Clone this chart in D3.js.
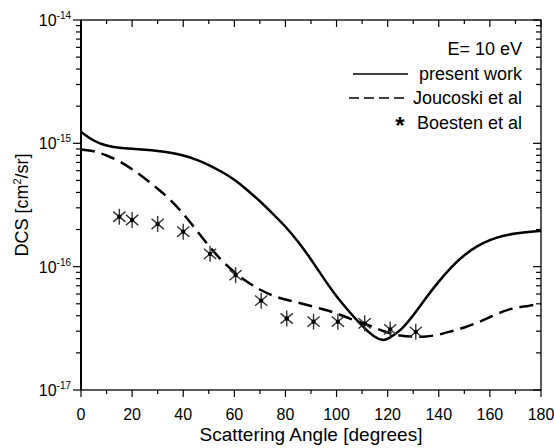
<!DOCTYPE html>
<html>
<head>
<meta charset="utf-8">
<script src="https://cdn.jsdelivr.net/npm/d3@7"></script>
<style>
  body { margin: 0; background: #fff; }
  text { font-family: "Liberation Sans", Arial, sans-serif; fill: #000; }
</style>
</head>
<body>
<div id="chart"></div>
<script>
// angles in degrees, DCS in cm^2/sr
const presentAngles = [0, 5, 10, 15, 20, 25, 30, 35, 40, 45, 50, 55, 60, 65, 70, 75, 80, 85, 90, 95, 100, 105, 110, 115, 118, 120, 125, 130, 135, 140, 145, 150, 155, 160, 165, 170, 175, 180];
const presentDcs = [1.24e-15, 1.04e-15, 0.95e-15, 0.92e-15, 0.905e-15, 0.89e-15, 0.87e-15, 0.84e-15, 0.80e-15, 0.74e-15, 0.67e-15, 0.59e-15, 0.51e-15, 0.42e-15, 0.34e-15, 0.27e-15, 0.212e-15, 0.16e-15, 0.115e-15, 0.08e-15, 0.057e-15, 0.043e-15, 0.033e-15, 0.0265e-15, 0.0252e-15, 0.0258e-15, 0.030e-15, 0.040e-15, 0.056e-15, 0.076e-15, 0.100e-15, 0.125e-15, 0.147e-15, 0.165e-15, 0.178e-15, 0.186e-15, 0.191e-15, 0.195e-15];

const joucoskiAngles = [0, 5, 10, 15, 20, 25, 30, 35, 40, 45, 50, 55, 60, 65, 70, 75, 80, 85, 90, 95, 100, 105, 110, 115, 120, 125, 130, 135, 140, 145, 150, 155, 160, 165, 170, 175, 180];
const joucoskiDcs = [0.89e-15, 0.87e-15, 0.80e-15, 0.72e-15, 0.62e-15, 0.52e-15, 0.43e-15, 0.35e-15, 0.27e-15, 0.20e-15, 0.147e-15, 0.112e-15, 0.090e-15, 0.075e-15, 0.065e-15, 0.058e-15, 0.054e-15, 0.051e-15, 0.048e-15, 0.045e-15, 0.042e-15, 0.038e-15, 0.035e-15, 0.032e-15, 0.029e-15, 0.0275e-15, 0.027e-15, 0.027e-15, 0.028e-15, 0.030e-15, 0.032e-15, 0.035e-15, 0.039e-15, 0.0435e-15, 0.0465e-15, 0.048e-15, 0.050e-15];

const boestenAngles = [15, 20, 30, 40, 50.5, 60.5, 70.5, 80.5, 91, 100.5, 111, 121, 131];
const boestenDcs = [2.54e-16, 2.39e-16, 2.22e-16, 1.92e-16, 1.27e-16, 8.55e-17, 5.3e-17, 3.8e-17, 3.58e-17, 3.58e-17, 3.47e-17, 3.1e-17, 2.96e-17];

const xTicks = [0, 20, 40, 60, 80, 100, 120, 140, 160, 180];
const yDecades = [-17, -16, -15, -14];
const legendLabels = ["present work", "Joucoski et al", "Boesten et al"];
const energyLabel = "E= 10 eV";

const W = 554, H = 448;
const m = { left: 81, right: 13, top: 20, bottom: 58 };

const svg = d3.select("#chart").append("svg")
  .attr("width", W).attr("height", H);

const x = d3.scaleLinear().domain([0, 180]).range([m.left, W - m.right]);
const y = d3.scaleLog().domain([1e-17, 1e-14]).range([H - m.bottom, m.top]);

const minorX = d3.range(0, 181, 10);
const minorY = [];
for (let e = -17; e < -14; e++) for (let k = 2; k <= 9; k++) minorY.push(k * Math.pow(10, e));

// ticks: bottom/left outward, top/right inward
const tickG = svg.append("g").attr("stroke", "#000").attr("stroke-width", 1.2);
minorX.forEach(v => {
  const len = v % 20 === 0 ? 7 : 4;
  tickG.append("line").attr("x1", x(v)).attr("x2", x(v)).attr("y1", y(1e-17)).attr("y2", y(1e-17) + len);
  tickG.append("line").attr("x1", x(v)).attr("x2", x(v)).attr("y1", y(1e-14)).attr("y2", y(1e-14) + len);
});
yDecades.forEach(e => {
  const v = Math.pow(10, e);
  tickG.append("line").attr("x1", x(0) - 8).attr("x2", x(0)).attr("y1", y(v)).attr("y2", y(v));
  tickG.append("line").attr("x1", x(180) - 8).attr("x2", x(180)).attr("y1", y(v)).attr("y2", y(v));
});
minorY.forEach(v => {
  tickG.append("line").attr("x1", x(0) - 5).attr("x2", x(0)).attr("y1", y(v)).attr("y2", y(v));
  tickG.append("line").attr("x1", x(180) - 5).attr("x2", x(180)).attr("y1", y(v)).attr("y2", y(v));
});

// frame
svg.append("rect")
  .attr("x", x(0)).attr("y", y(1e-14))
  .attr("width", x(180) - x(0)).attr("height", y(1e-17) - y(1e-14))
  .attr("fill", "none").attr("stroke", "#000").attr("stroke-width", 1.3);
svg.append("line").attr("x1", x(0)).attr("x2", x(0)).attr("y1", y(1e-14)).attr("y2", y(1e-17))
  .attr("stroke", "#000").attr("stroke-width", 2);

// tick labels
svg.append("g").selectAll("text").data(xTicks).join("text")
  .attr("x", d => x(d)).attr("y", y(1e-17) + 30)
  .attr("text-anchor", "middle").style("font-size", "16px")
  .text(d => d);

const yl = svg.append("g").selectAll("text").data(yDecades).join("text")
  .attr("x", x(0) - 10).attr("y", d => y(Math.pow(10, d)) + 6)
  .attr("text-anchor", "end").style("font-size", "16px");
yl.append("tspan").text("10");
yl.append("tspan").attr("dy", -7).style("font-size", "10px").text(d => "-" + Math.abs(d));

// axis titles
svg.append("text").attr("x", (x(0) + x(180)) / 2).attr("y", 441)
  .attr("text-anchor", "middle").style("font-size", "19px")
  .text("Scattering Angle [degrees]");
const yt = svg.append("text").attr("transform", `translate(28,${(y(1e-14) + y(1e-17)) / 2}) rotate(-90)`)
  .attr("text-anchor", "middle").style("font-size", "18px");
yt.append("tspan").text("DCS [cm");
yt.append("tspan").attr("dy", -7).style("font-size", "11px").text("2");
yt.append("tspan").attr("dy", 7).text("/sr]");

// curves
svg.append("clipPath").attr("id", "plot").append("rect")
  .attr("x", x(0)).attr("y", y(1e-14)).attr("width", x(180) - x(0)).attr("height", y(1e-17) - y(1e-14));

const line = d3.line().x(d => x(d[0])).y(d => y(d[1])).curve(d3.curveBasis);

svg.append("path")
  .datum(joucoskiAngles.map((a, i) => [a, joucoskiDcs[i]]))
  .attr("d", line).attr("fill", "none").attr("stroke", "#000")
  .attr("stroke-width", 2.5).attr("stroke-dasharray", "14,7")
  .attr("clip-path", "url(#plot)");

svg.append("path")
  .datum(presentAngles.map((a, i) => [a, presentDcs[i]]))
  .attr("d", line).attr("fill", "none").attr("stroke", "#000")
  .attr("stroke-width", 2.5).attr("clip-path", "url(#plot)");

// asterisk markers
const star = svg.append("g").selectAll("g")
  .data(boestenAngles.map((a, i) => [a, boestenDcs[i]]))
  .join("g")
  .attr("transform", d => `translate(${x(d[0])},${y(d[1])})`);
[90, 40, -40].forEach(ang => {
  const r = 8, t = ang * Math.PI / 180;
  star.append("line")
    .attr("x1", -r * Math.cos(t)).attr("y1", -r * Math.sin(t))
    .attr("x2", r * Math.cos(t)).attr("y2", r * Math.sin(t))
    .attr("stroke", "#333").attr("stroke-width", 1.4);
});
star.append("circle").attr("r", 2.2).attr("fill", "#000");

// legend
const lx = 522;
svg.append("text").attr("x", lx).attr("y", 55).attr("text-anchor", "end")
  .style("font-size", "18px").text(energyLabel);
const rows = [80, 104, 129];
legendLabels.forEach((t, i) => {
  svg.append("text").attr("x", lx).attr("y", rows[i]).attr("text-anchor", "end")
    .style("font-size", "18px").text(t);
});
svg.append("line").attr("x1", 353).attr("x2", 408).attr("y1", 74).attr("y2", 74)
  .attr("stroke", "#000").attr("stroke-width", 1.3);
svg.append("line").attr("x1", 349).attr("x2", 404).attr("y1", 98).attr("y2", 98)
  .attr("stroke", "#000").attr("stroke-width", 1.3).attr("stroke-dasharray", "10,5");
svg.append("text").attr("x", 400).attr("y", 134).attr("text-anchor", "middle")
  .style("font-size", "24px").style("font-weight", "bold").text("*");
</script>
</body>
</html>
